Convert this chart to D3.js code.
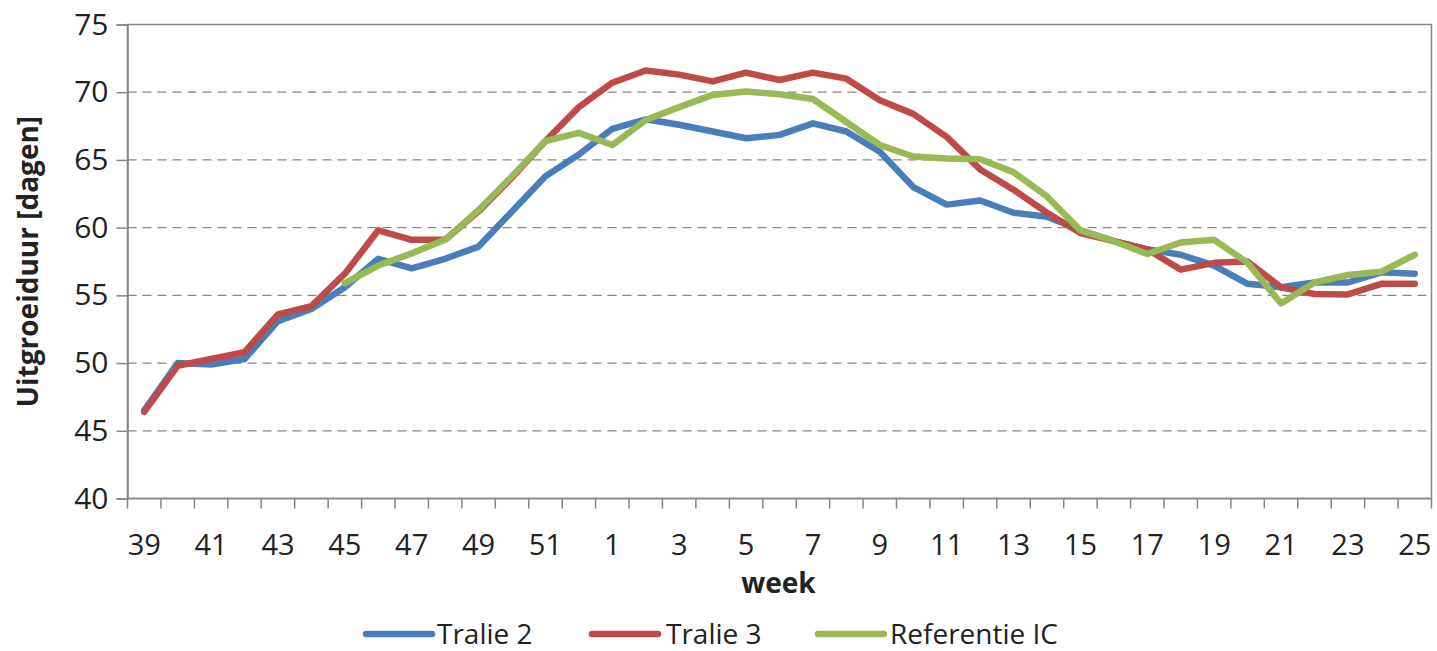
<!DOCTYPE html>
<html>
<head>
<meta charset="utf-8">
<script src="https://cdn.jsdelivr.net/npm/d3@7"></script>
<style>
  html, body { margin: 0; padding: 0; background: #fff; }
  svg { display: block; }
  text { font-family: "Open Sans", "Noto Sans", sans-serif; fill: #222; }
</style>
</head>
<body>
<svg id="chart" width="1437" height="651"></svg>
<script>
const weeks = ["39","40","41","42","43","44","45","46","47","48","49","50","51","52",
  "1","2","3","4","5","6","7","8","9","10","11","12","13","14","15","16","17","18","19","20","21","22","23","24","25"];

const tralie2 = [46.5, 50.0, 49.9, 50.3, 53.1, 54.0, 55.6, 57.7, 57.0, 57.7, 58.6, 61.2, 63.8, 65.4,
  67.3, 68.0, 67.6, 67.1, 66.6, 66.85, 67.7, 67.1, 65.6, 63.0, 61.7, 62.0, 61.1, 60.8, 59.8, 59.0,
  58.4, 58.0, 57.2, 55.85, 55.6, 55.95, 55.95, 56.7, 56.6];

const tralie3 = [46.4, 49.8, 50.3, 50.8, 53.6, 54.2, 56.6, 59.8, 59.1, 59.1, 61.2, 63.7, 66.4, 68.9,
  70.7, 71.6, 71.3, 70.8, 71.45, 70.9, 71.45, 71.0, 69.4, 68.4, 66.7, 64.3, 62.8, 61.1, 59.6, 59.0,
  58.4, 56.9, 57.4, 57.5, 55.6, 55.1, 55.07, 55.85, 55.85];

const referentie = [null, null, null, null, null, null, 55.9, 57.2, 58.1, 59.1, 61.3, 63.8, 66.4, 67.0,
  66.1, 67.95, 68.9, 69.8, 70.05, 69.85, 69.5, 67.8, 66.1, 65.25, 65.1, 65.05, 64.1, 62.3, 59.8, 59.0,
  58.05, 58.9, 59.1, 57.4, 54.4, 55.95, 56.5, 56.75, 58.0];

const yTicks = [40, 45, 50, 55, 60, 65, 70, 75];
const seriesNames = ["Tralie 2", "Tralie 3", "Referentie IC"];
const seriesColors = ["#4a7ebb", "#be4b48", "#98b954"];
const xLabel = "week";
const yLabel = "Uitgroeiduur [dagen]";

const series = [tralie2, tralie3, referentie];

const pLeft = 127.5, pRight = 1431.5, pTop = 24.5, pBottom = 498.5;
const svg = d3.select("#chart");
const axisColor = "#868686";

const x = d3.scaleBand().domain(weeks).range([pLeft, pRight]).padding(0);
const y = d3.scaleLinear().domain([40, 75]).range([pBottom, pTop]);

// gridlines
svg.append("g").selectAll("line")
  .data(yTicks.filter(v => v > 40 && v < 75))
  .join("line")
  .attr("x1", pLeft).attr("x2", pRight)
  .attr("y1", d => y(d)).attr("y2", d => y(d))
  .attr("stroke", axisColor).attr("stroke-width", 1.3)
  .attr("stroke-dasharray", "9,6");

// plot border
svg.append("rect")
  .attr("x", pLeft).attr("y", pTop)
  .attr("width", pRight - pLeft).attr("height", pBottom - pTop)
  .attr("fill", "none").attr("stroke", axisColor).attr("stroke-width", 1.5);

// y axis
const yAxis = d3.axisLeft(y).tickValues(yTicks).tickSize(11).tickPadding(8);
const gy = svg.append("g").attr("transform", `translate(${pLeft},0)`).call(yAxis);
gy.select(".domain").attr("stroke", axisColor).attr("stroke-width", 1.5);
gy.selectAll(".tick line").attr("stroke", axisColor).attr("stroke-width", 1.5);
gy.selectAll(".tick text").attr("font-size", 30).attr("fill", "#222")
  .attr("font-family", "'Open Sans', sans-serif");

// x axis: ticks at category boundaries, labels every other category
const gx = svg.append("g").attr("transform", `translate(0,${pBottom})`);
gx.append("line").attr("x1", pLeft).attr("x2", pRight).attr("y1", 0).attr("y2", 0)
  .attr("stroke", axisColor).attr("stroke-width", 1.5);
const boundaries = weeks.map(w => x(w)).concat([x(weeks[weeks.length - 1]) + x.bandwidth()]);
gx.selectAll("line.tk").data(boundaries).join("line").attr("class", "tk")
  .attr("x1", d => d).attr("x2", d => d).attr("y1", 0).attr("y2", 10)
  .attr("stroke", axisColor).attr("stroke-width", 1.5);
gx.selectAll("text").data(weeks.filter((w, i) => i % 2 === 0)).join("text")
  .attr("x", d => x(d) + x.bandwidth() / 2)
  .attr("y", 56)
  .attr("text-anchor", "middle")
  .attr("font-size", 29)
  .text(d => d);

// axis titles
svg.append("text").attr("x", (pLeft + pRight) / 2 - 1).attr("y", 593)
  .attr("text-anchor", "middle").attr("font-size", 28).attr("font-weight", "bold")
  .text(xLabel);
svg.append("text")
  .attr("transform", `translate(38,${(pTop + pBottom) / 2}) rotate(-90)`)
  .attr("text-anchor", "middle").attr("font-size", 28).attr("font-weight", "bold")
  .text(yLabel);

// lines
const line = d3.line()
  .defined(d => d.v !== null)
  .x(d => x(d.w) + x.bandwidth() / 2)
  .y(d => y(d.v));

series.forEach((vals, si) => {
  svg.append("path")
    .datum(weeks.map((w, i) => ({ w, v: vals[i] })))
    .attr("d", line)
    .attr("fill", "none")
    .attr("stroke", seriesColors[si])
    .attr("stroke-width", 6.5)
    .attr("stroke-linejoin", "round")
    .attr("stroke-linecap", "round");
});

// legend
const legendItems = [
  { lx: 366, tx: 437 },
  { lx: 592, tx: 666 },
  { lx: 818, tx: 890 }
];
const lg = svg.append("g");
seriesNames.forEach((name, i) => {
  const it = legendItems[i];
  lg.append("line").attr("x1", it.lx).attr("x2", it.lx + 66)
    .attr("y1", 634).attr("y2", 634)
    .attr("stroke", seriesColors[i]).attr("stroke-width", 6.5)
    .attr("stroke-linecap", "round");
  lg.append("text").attr("x", it.tx).attr("y", 644)
    .attr("font-size", 28).text(name);
});
</script>
</body>
</html>
